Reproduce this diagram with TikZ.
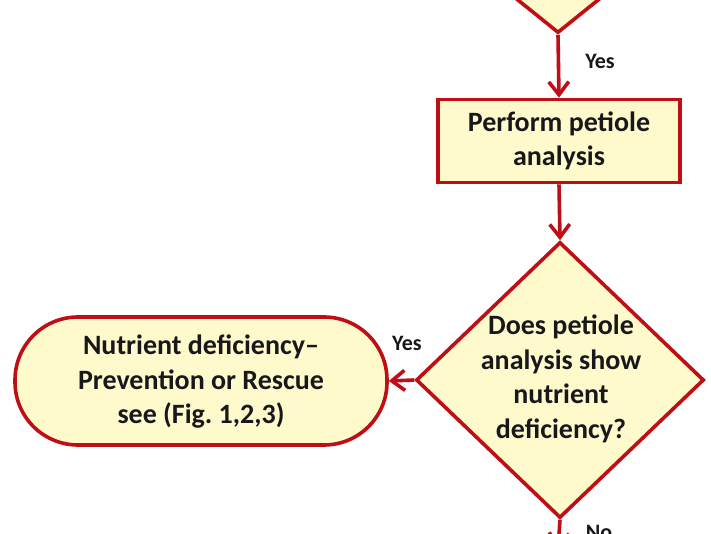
\documentclass[tikz,border=0pt]{standalone}
\usepackage{fontspec}
\setmainfont{Carlito}
\usetikzlibrary{shapes.geometric,arrows.meta}
\definecolor{edgered}{RGB}{190,14,22}
\definecolor{boxfill}{RGB}{255,250,204}
\definecolor{inkdark}{RGB}{24,24,28}
\tikzset{
  flow/.style={draw=edgered, line width=3.6pt, fill=boxfill},
  stepbox/.style={flow, rectangle, minimum width=242pt, minimum height=83pt, inner sep=0pt},
  decide/.style={flow, diamond, inner sep=0pt},
  endbox/.style={flow, rectangle, rounded corners=63pt, minimum width=372pt, minimum height=128pt, inner sep=0pt},
  txt/.style={text=inkdark, align=center, font=\fontsize{28}{34.5}\selectfont\bfseries},
  lbl/.style={text=inkdark, font=\fontsize{22}{26}\selectfont\bfseries},
  link/.style={draw=edgered, line width=3.6pt, -{Straight Barb[length=13pt,width=20pt]}}
}
\begin{document}
\begin{tikzpicture}[x=1pt,y=-1pt]
\useasboundingbox (0,0) rectangle (711,534);
\clip (0,0) rectangle (711,534);
\fill[white] (0,0) rectangle (711,534);

% upper decision, only its lower tip in view
\node[decide, minimum width=248pt, minimum height=200pt] (d1) at (558,-67) {};

% petiole analysis step
\node[stepbox] (s1) at (559,141) {};
\node[txt] (s1t) at (559,141) {Perform petiole\\analysis};

% second decision
\node[decide, minimum width=288pt, minimum height=276pt] (d2) at (560,380) {};
\node[txt] (d2t) at (561,379) {Does petiole\\analysis show\\nutrient\\deficiency?};

% terminal
\node[endbox] (t1) at (201,381) {};
\node[txt] (t1t) at (201,382) {Nutrient deficiency–\\Prevention or Rescue\\see (Fig.\ 1,2,3)};

\coordinate (nxt) at (558,549);

% connectors
\draw[link] (d1.south) -- (s1.north);
\draw[link] (s1.south) -- (d2.north);
\draw[link] (d2.west) -- (t1.east);
\draw[link] (d2.south) -- (nxt);

% branch labels
\node[lbl] (y1) at (600,61) {Yes};
\node[lbl] (y2) at (407,343) {Yes};
\node[lbl] (n1) at (599,532) {No};
\end{tikzpicture}
\end{document}
